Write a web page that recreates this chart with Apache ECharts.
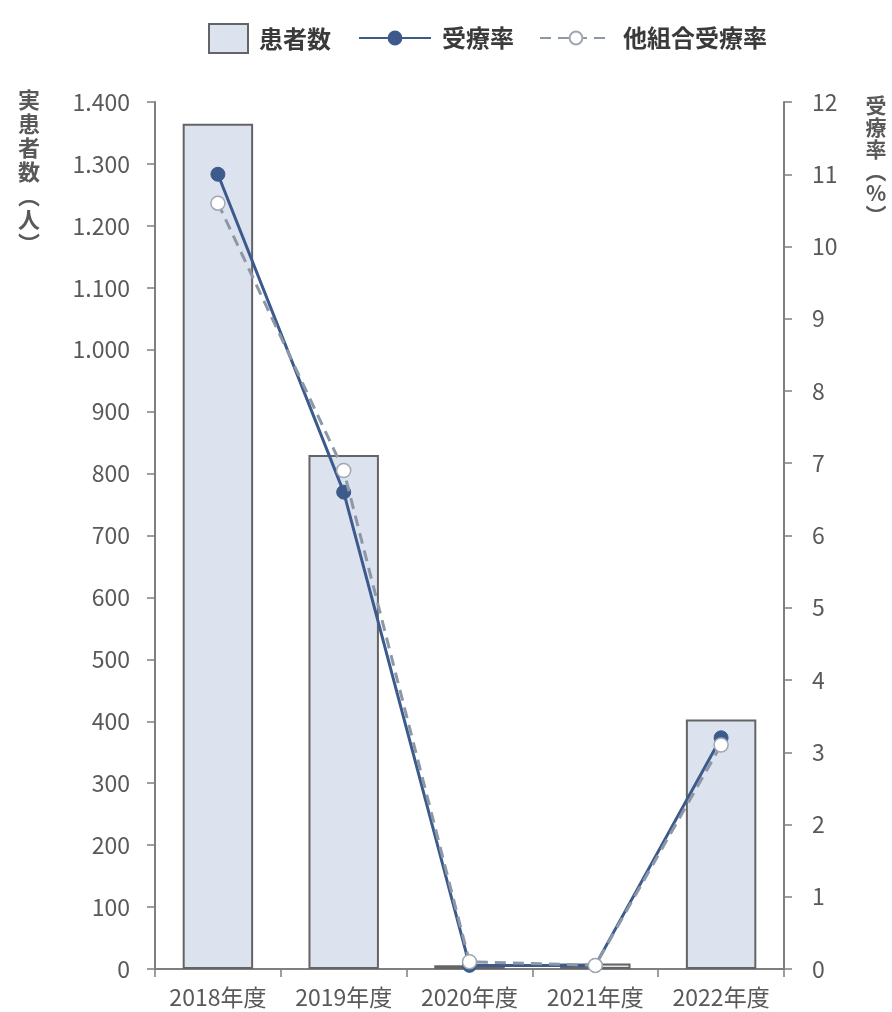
<!DOCTYPE html>
<html>
<head>
<meta charset="utf-8">
<script src="https://cdn.jsdelivr.net/npm/echarts@6/dist/echarts.min.js"></script>
<style>
  html, body { margin: 0; padding: 0; background: #ffffff; }
  #chart { width: 892px; height: 1012px; }
</style>
</head>
<body>
<div id="chart"></div>
<script>
// 年度別の実患者数と受療率
const categories = ['2018年度', '2019年度', '2020年度', '2021年度', '2022年度'];
const patients = [1365, 830, 6, 9, 403];          // 実患者数（人）
const rate = [11.0, 6.6, 0.05, 0.05, 3.2];         // 受療率（%）
const otherRate = [10.6, 6.9, 0.1, 0.05, 3.1];     // 他組合受療率（%）
const leftTicks = { min: 0, max: 1400, interval: 100 };
const rightTicks = { min: 0, max: 12, interval: 1 };

const FONT = '"Noto Sans CJK JP", "Noto Sans", sans-serif';
const GREY = '#595959';
const AXIS_GREY = '#7f7f7f';

const chart = echarts.init(document.getElementById('chart'), null, { renderer: 'canvas' });

const axisLabelStyle = { color: GREY, fontSize: 23, fontFamily: FONT };
const axisLineStyle = { show: true, lineStyle: { color: AXIS_GREY, width: 2 } };
const tickStyle = { show: true, length: 8, lineStyle: { color: AXIS_GREY, width: 1.5 } };
const legendText = { fontSize: 24, fontWeight: 'bold', color: '#3a3a3a', fontFamily: FONT, padding: [0, 0, 0, 6] };

chart.setOption({
  animation: false,
  backgroundColor: '#ffffff',
  textStyle: { fontFamily: FONT },
  grid: { left: 155, right: 108, top: 102, bottom: 43 },
  legend: [
    {
      data: [{ name: '患者数', icon: 'rect' }],
      left: 203, top: 18,
      itemWidth: 39, itemHeight: 29,
      textStyle: legendText
    },
    {
      data: ['受療率', '他組合受療率'],
      left: 353, top: 21,
      itemWidth: 72, itemHeight: 16,
      itemGap: 25,
      textStyle: legendText
    }
  ],
  xAxis: {
    type: 'category',
    data: categories,
    axisLine: axisLineStyle,
    axisTick: tickStyle,
    axisLabel: Object.assign({ margin: 17, interval: 0, hideOverlap: false }, axisLabelStyle, { fontSize: 23 }),
    splitLine: { show: false }
  },
  yAxis: [
    {
      type: 'value',
      min: leftTicks.min, max: leftTicks.max, interval: leftTicks.interval,
      axisLine: axisLineStyle,
      axisTick: tickStyle,
      axisLabel: Object.assign({
        margin: 25,
        formatter: v => String(v).replace(/\B(?=(\d{3})+(?!\d))/g, '.')
      }, axisLabelStyle),
      splitLine: { show: false }
    },
    {
      type: 'value',
      position: 'right',
      min: rightTicks.min, max: rightTicks.max, interval: rightTicks.interval,
      axisLine: axisLineStyle,
      axisTick: tickStyle,
      axisLabel: Object.assign({ margin: 28 }, axisLabelStyle),
      splitLine: { show: false }
    }
  ],
  series: [
    {
      name: '患者数',
      type: 'bar',
      yAxisIndex: 0,
      data: patients,
      barWidth: '56%',
      itemStyle: { color: '#dce3ee', borderColor: '#646464', borderWidth: 2 }
    },
    {
      name: '受療率',
      type: 'line',
      yAxisIndex: 1,
      data: rate,
      symbol: 'circle',
      symbolSize: 14,
      lineStyle: { color: '#3c5a8c', width: 3 },
      itemStyle: { color: '#3c5a8c', borderColor: '#3c5a8c', borderWidth: 1 },
      z: 3
    },
    {
      name: '他組合受療率',
      type: 'line',
      yAxisIndex: 1,
      data: otherRate,
      symbol: 'circle',
      symbolSize: 14,
      lineStyle: { color: '#8c98a8', width: 3, type: [11, 7] },
      itemStyle: { color: '#ffffff', borderColor: '#a0a8b2', borderWidth: 1.5 },
      z: 4
    }
  ],
  graphic: [
    {
      type: 'text',
      x: 29, y: 88,
      style: {
        text: '実\n患\n者\n数\n︵\n人\n︶',
        fontSize: 22, lineHeight: 24, fontWeight: 'bold',
        fill: GREY, fontFamily: FONT, align: 'center', verticalAlign: 'top'
      }
    },
    {
      type: 'text',
      x: 876, y: 94,
      style: {
        text: '受\n療\n率\n︵\n%\n︶',
        fontSize: 21, lineHeight: 22, fontWeight: 'bold',
        fill: GREY, fontFamily: FONT, align: 'center', verticalAlign: 'top'
      }
    }
  ]
});
</script>
</body>
</html>
